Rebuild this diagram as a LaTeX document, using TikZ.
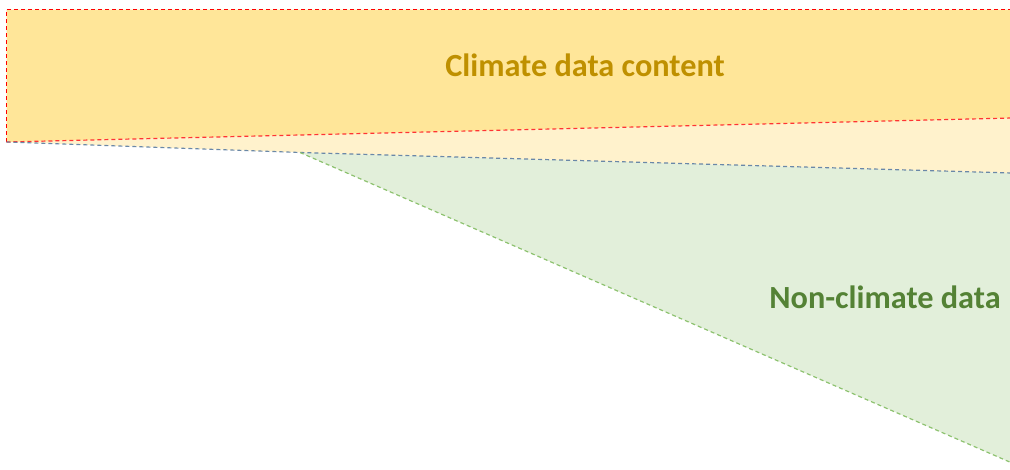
\documentclass[tikz,border=0pt]{standalone}
\usepackage{fontspec}
\setmainfont{Carlito}
\usepackage{xcolor}
\definecolor{climfill}{HTML}{FFE699}
\definecolor{gapfill}{HTML}{FFF2CC}
\definecolor{nonfill}{HTML}{E2EFDA}
\definecolor{climtext}{HTML}{BF9000}
\definecolor{nontext}{HTML}{548235}
\definecolor{blueline}{HTML}{6A88A8}
\definecolor{greenline}{HTML}{8DC26F}
\begin{document}
\begin{tikzpicture}[x=1pt,y=-1pt]
	\tikzstyle{every node}+=[inner sep=0pt]
	\tikzstyle{edge}=[dashed, dash pattern=on 4pt off 3pt, line width=1.2pt]
	\useasboundingbox (0,0) rectangle (1010,469);
	\clip (0,0) rectangle (1010,469);
	\coordinate (tl) at (6.5,9.5);
	\coordinate (tr) at (1012,9.5);
	\coordinate (bl) at (6.5,142);
	\coordinate (br) at (1012,118);
	\coordinate (kink) at (300,152.5);
	\coordinate (bluer) at (1012,173);
	\coordinate (greenr) at (1012,463);
	\fill [nonfill] (kink) -- (bluer) -- (greenr) -- cycle;
	\fill [gapfill] (bl) -- (br) -- (bluer) -- (kink) -- cycle;
	\fill [climfill] (tl) -- (tr) -- (br) -- (bl) -- cycle;
	\draw [edge, red] (tr) -- (tl) -- (bl);
	\draw [edge, red!80] (bl) -- (br);
	\draw [edge, blueline] (bl) -- (kink) -- (bluer);
	\draw [edge, greenline] (kink) -- (greenr);
	\node [text=climtext, font=\bfseries\fontsize{32.3}{38}\selectfont] (clim) at (585,65) {Climate data content};
	\node [text=nontext, font=\bfseries\fontsize{32.3}{38}\selectfont] (non) at (885,297) {Non-climate data};
\end{tikzpicture}
\end{document}
